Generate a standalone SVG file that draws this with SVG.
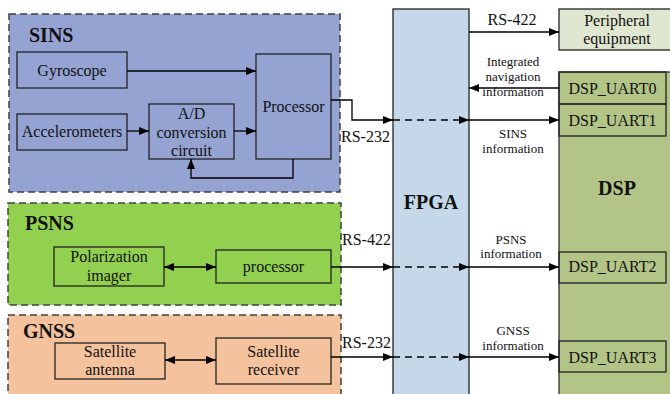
<svg xmlns="http://www.w3.org/2000/svg" width="670" height="394" viewBox="0 0 670 394" font-family="'Liberation Serif', 'Times New Roman', serif">
<style>
text{font-family:'Liberation Serif','Times New Roman',serif;fill:#111}
.t{font-size:16px;text-anchor:middle}
.s{font-size:13px;text-anchor:middle}
.l{font-size:16px}
.b{font-size:20px;font-weight:bold}
.bc{font-size:20px;font-weight:bold;text-anchor:middle}
.grp{stroke:#404040;stroke-width:1.5;stroke-dasharray:7,4}
.box{fill:none;stroke:#222;stroke-width:1.3}
.ln{fill:none;stroke:#000;stroke-width:1.3}
.dl{fill:none;stroke:#000;stroke-width:1.3;stroke-dasharray:7,5}
</style>
<defs>
<marker id="ah" viewBox="0 0 10 8" refX="10" refY="4" markerWidth="10" markerHeight="8" markerUnits="userSpaceOnUse" orient="auto-start-reverse">
<path d="M0,0 L10,4 L0,8 Z" fill="#000"/>
</marker>
</defs>

<g id="SINS">
<rect x="9" y="14" width="331" height="178" fill="#95A3D3" class="grp"/>
<text class="b" x="29" y="42" font-family="Liberation Serif, serif">SINS</text>
</g>
<g id="PSNS">
<rect x="8" y="203" width="333" height="102" fill="#92D050" class="grp"/>
<text class="b" x="25" y="230" font-family="Liberation Serif, serif">PSNS</text>
</g>
<g id="GNSS">
<rect x="8" y="315" width="333" height="90" fill="#F4C29C" class="grp"/>
<text class="b" x="23" y="338" font-family="Liberation Serif, serif">GNSS</text>
</g>

<g id="gyroscope">
<rect class="box" x="17" y="52" width="110" height="36"/>
<text class="t" x="72" y="76">Gyroscope</text>
</g>
<g id="accelerometers">
<rect class="box" x="17" y="114" width="110" height="36"/>
<text class="t" x="72" y="137">Accelerometers</text>
</g>
<g id="ad">
<rect class="box" x="149" y="104" width="85" height="55"/>
<text class="t" x="191.5" y="119">A/D</text>
<text class="t" x="191.5" y="138">conversion</text>
<text class="t" x="191.5" y="156">circuit</text>
</g>
<g id="processor1">
<rect class="box" x="256" y="54" width="75" height="105"/>
<text class="t" x="293.5" y="112">Processor</text>
</g>

<g id="polarization">
<rect class="box" x="54" y="247" width="110" height="39"/>
<text class="t" x="109" y="262">Polarization</text>
<text class="t" x="109" y="281">imager</text>
</g>
<g id="processor2">
<rect class="box" x="216" y="250" width="115" height="33"/>
<text class="t" x="273.5" y="272">processor</text>
</g>

<g id="antenna">
<rect class="box" x="55" y="343" width="110" height="36"/>
<text class="t" x="110" y="357">Satellite</text>
<text class="t" x="110" y="375">antenna</text>
</g>
<g id="receiver">
<rect class="box" x="216" y="338" width="115" height="46"/>
<text class="t" x="273.5" y="357">Satellite</text>
<text class="t" x="273.5" y="375">receiver</text>
</g>

<g id="FPGA">
<rect x="393" y="9" width="76" height="400" fill="#C5D8EA" stroke="#222" stroke-width="1.3"/>
<text class="bc" x="431" y="209">FPGA</text>
</g>

<g id="peripheral">
<rect x="559" y="9" width="120" height="41" fill="#E0E7D0" stroke="#222" stroke-width="1.3"/>
<text class="t" x="617" y="26">Peripheral</text>
<text class="t" x="617" y="44">equipment</text>
</g>

<g id="DSP">
<rect x="559" y="72" width="120" height="340" fill="#B3C487" stroke="#333" stroke-width="1.3"/>
<text class="bc" x="617" y="195">DSP</text>
</g>
<g id="uart0">
<rect class="box" x="559" y="72" width="107" height="32"/>
<text class="t" x="612.5" y="94">DSP_UART0</text>
</g>
<g id="uart1">
<rect class="box" x="559" y="104" width="107" height="32"/>
<text class="t" x="612.5" y="126">DSP_UART1</text>
</g>
<g id="uart2">
<rect class="box" x="559" y="252" width="107" height="31"/>
<text class="t" x="612.5" y="272">DSP_UART2</text>
</g>
<g id="uart3">
<rect class="box" x="559" y="341" width="107" height="31"/>
<text class="t" x="612.5" y="363">DSP_UART3</text>
</g>

<g id="connectors">
<line class="ln" x1="127" y1="71" x2="256" y2="71" marker-end="url(#ah)"/>
<line class="ln" x1="127" y1="131" x2="149" y2="131" marker-end="url(#ah)"/>
<line class="ln" x1="234" y1="131" x2="256" y2="131" marker-end="url(#ah)"/>
<polyline class="ln" points="293,159 293,178 191,178 191,159" marker-end="url(#ah)"/>

<polyline class="ln" points="331,100 352,100 352,120 393,120" marker-end="url(#ah)"/>
<line class="dl" x1="393" y1="120" x2="469" y2="120" marker-end="url(#ah)"/>
<line class="ln" x1="469" y1="120" x2="559" y2="120" marker-end="url(#ah)"/>
<text class="l" x="341" y="142">RS-232</text>
<text class="s" x="513" y="138">SINS</text>
<text class="s" x="513" y="153">information</text>

<line class="ln" x1="469" y1="32" x2="559" y2="32" marker-end="url(#ah)"/>
<text class="t" x="512" y="25">RS-422</text>

<line class="ln" x1="559" y1="88" x2="469" y2="88" marker-end="url(#ah)"/>
<text class="s" x="513" y="66">Integrated</text>
<text class="s" x="513" y="81">navigation</text>
<text class="s" x="513" y="96">information</text>

<line class="ln" x1="164" y1="267" x2="216" y2="267" marker-start="url(#ah)" marker-end="url(#ah)"/>
<line class="ln" x1="331" y1="267" x2="393" y2="267" marker-end="url(#ah)"/>
<line class="dl" x1="393" y1="267" x2="469" y2="267" marker-end="url(#ah)"/>
<line class="ln" x1="469" y1="267" x2="559" y2="267" marker-end="url(#ah)"/>
<text class="l" x="342" y="245">RS-422</text>
<text class="s" x="511" y="244">PSNS</text>
<text class="s" x="511" y="258">information</text>

<line class="ln" x1="165" y1="360" x2="216" y2="360" marker-start="url(#ah)" marker-end="url(#ah)"/>
<line class="ln" x1="331" y1="357" x2="393" y2="357" marker-end="url(#ah)"/>
<line class="dl" x1="393" y1="357" x2="469" y2="357" marker-end="url(#ah)"/>
<line class="ln" x1="469" y1="357" x2="559" y2="357" marker-end="url(#ah)"/>
<text class="l" x="342" y="348">RS-232</text>
<text class="s" x="513" y="335">GNSS</text>
<text class="s" x="513" y="350">information</text>
</g>
</svg>
